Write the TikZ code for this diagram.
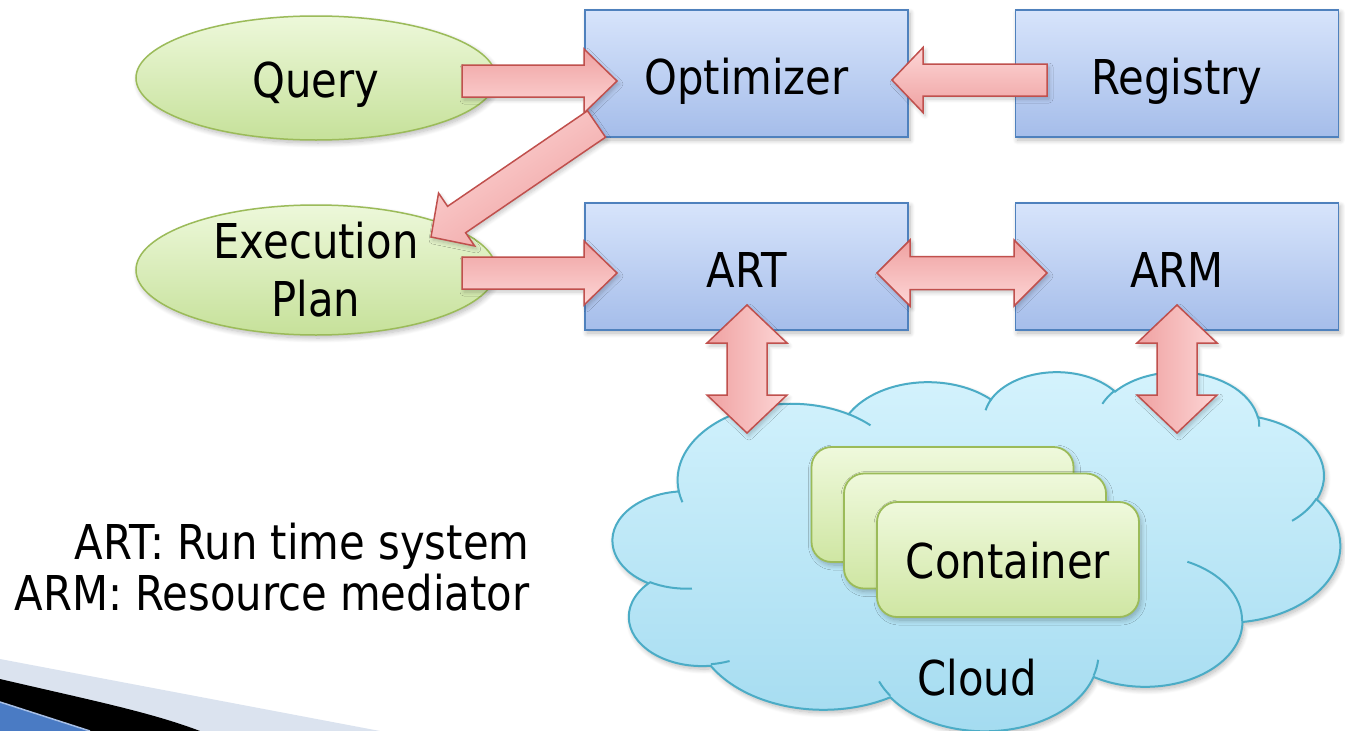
\documentclass[tikz,border=0pt]{standalone}
\usepackage{fontspec}
\setmainfont{DejaVu Sans}[FakeStretch=0.87]
\usetikzlibrary{shapes.geometric,shadows.blur,calc}

\definecolor{boxtop}{HTML}{D7E4FB}
\definecolor{boxbot}{HTML}{A5BDEA}
\definecolor{boxline}{HTML}{4F81BD}
\definecolor{elltop}{HTML}{EDF8DA}
\definecolor{ellbot}{HTML}{C6E19A}
\definecolor{ellline}{HTML}{9BBB59}
\definecolor{arrlight}{HTML}{FDD6D6}
\definecolor{arrdark}{HTML}{EFA1A1}
\definecolor{arrline}{HTML}{C0504D}
\definecolor{cloudtop}{HTML}{D5F3FD}
\definecolor{cloudbot}{HTML}{A3DBF0}
\definecolor{cloudline}{HTML}{4BACC6}
\definecolor{ctop}{HTML}{EFF9DC}
\definecolor{cbot}{HTML}{CFE6A3}
\definecolor{swooshlight}{HTML}{DBE3EF}
\definecolor{swooshblue}{HTML}{4A7BC4}
\definecolor{swooshedge}{HTML}{A7BFE6}

% direction and length between two named points
\newcommand\arrowgeom[2]{%
  \path let \p1=(#1), \p2=(#2) in \pgfextra{%
    \pgfmathsetmacro\tmpang{atan2(\y2-\y1,\x2-\x1)}%
    \pgfmathsetmacro\tmplen{veclen(\x2-\x1,\y2-\y1)}%
    \xdef\arang{\tmpang}\xdef\arlen{\tmplen}};}

% block arrow: tail, tip, shaft half width, head half width, head length, colours, base shading angle
\newcommand\singlearrow[7]{%
  \arrowgeom{#1}{#2}%
  \pgfmathsetmacro\shang{\arang+#7}%
  \begin{scope}[shift={(#1)}, rotate=\arang, x=1pt, y=1pt]
    \path[blockarrow, #6, shading angle=\shang]
      (0,-#3) -- (\arlen-#5,-#3) -- (\arlen-#5,-#4) -- (\arlen,0)
      -- (\arlen-#5,#4) -- (\arlen-#5,#3) -- (0,#3) -- cycle;
  \end{scope}}

% block arrow with a head at both ends
\newcommand\doublearrow[7]{%
  \arrowgeom{#1}{#2}%
  \pgfmathsetmacro\shang{\arang+#7}%
  \begin{scope}[shift={(#1)}, rotate=\arang, x=1pt, y=1pt]
    \path[blockarrow, #6, shading angle=\shang]
      (0,0) -- (#5,#4) -- (#5,#3) -- (\arlen-#5,#3) -- (\arlen-#5,#4)
      -- (\arlen,0) -- (\arlen-#5,-#4) -- (\arlen-#5,-#3) -- (#5,-#3)
      -- (#5,-#4) -- cycle;
  \end{scope}}

% one lobe of the cloud outline: radii, start angle, sweep (visual angles, y downwards)
\def\csx{1.6829pt}
\def\csy{0.8310pt}
\newcommand\cloudarc[4]{arc[x radius={#1*\csx}, y radius={#2*\csy},
  start angle={-atan2(#1*sin(#3),#2*cos(#3))},
  delta angle={-Mod(atan2(#1*sin(#3+#4),#2*cos(#3+#4))-atan2(#1*sin(#3),#2*cos(#3)),360)}]}

\begin{document}
\begin{tikzpicture}[x=1pt, y=-1pt,
  font=\fontsize{48}{58}\selectfont,
  shadowed/.style={blur shadow={shadow xshift=2pt, shadow yshift=-3pt,
      shadow opacity=28, shadow blur radius=5pt, shadow blur steps=8}},
  linebox/.style={text height=52pt, text depth=10pt},
  box/.style={rectangle, draw=boxline, line width=1.5pt,
      top color=boxtop, bottom color=boxbot,
      minimum width=323pt, minimum height=127pt, inner sep=0pt,
      linebox, shadowed},
  oval/.style={ellipse, draw=ellline, line width=1.5pt,
      top color=elltop, bottom color=ellbot,
      minimum width=360pt, inner sep=0pt, shadowed},
  container/.style={rectangle, rounded corners=20pt, draw=ellline, line width=1.8pt,
      top color=ctop, bottom color=cbot,
      minimum width=262pt, minimum height=115pt, inner sep=0pt,
      text height=48pt, text depth=10pt, shadowed},
  blockarrow/.style={draw=arrline, line width=1.5pt, line join=miter,
      blur shadow={shadow xshift=2pt, shadow yshift=-3pt,
      shadow opacity=22, shadow blur radius=4pt, shadow blur steps=6}},
  sidecols/.style={top color=arrdark, bottom color=arrlight},
  cloudshape/.style={draw=cloudline, line width=2pt,
      top color=cloudtop, bottom color=cloudbot, shadowed},
  crease/.style={draw=cloudline, line width=2pt}]

\useasboundingbox (0,0) rectangle (1345,731);

% corner swoosh of the slide
\fill[swooshlight] (0,659) -- (380,731) -- (0,731) -- cycle;
\fill[black] (0,679) .. controls (90,700) and (150,712) .. (200,731) -- (0,731) -- cycle;
\fill[swooshblue] (0,702) -- (90,731) -- (0,731) -- cycle;
\draw[swooshedge, line width=1.5pt] (0,702) -- (90,731);

% input and plan
\node[oval, minimum height=124pt, text height=48pt, text depth=10pt] (query) at (316,78) {Query};
\node[oval, minimum height=130pt] (plan) at (316,270) {};
\node[align=center] (plantext) at (plan.center) {Execution\\Plan};

% system components
\node[box] (opt) at (746.5,73.5) {Optimizer};
\node[box] (reg) at (1177,73.5) {Registry};
\node[box] (art) at (746.5,266.5) {ART};
\node[box] (arm) at (1177,266.5) {ARM};

% cloud
\begin{scope}[shift={(613,371)}, x=1.6829pt, y=-0.8310pt]
  \path[cloudshape] (39.00,143.70)
    \cloudarc{67.53}{91.90}{-190.4875}{123.7805}
    \cloudarc{53.33}{72.67}{-144.1024}{89.9452}
    \cloudarc{43.65}{59.45}{-145.8079}{99.7230}
    \cloudarc{48.57}{65.95}{-130.9861}{117.2417}
    \cloudarc{53.33}{72.73}{-78.7089}{109.0269}
    \cloudarc{67.75}{92.20}{-46.2673}{130.2690}
    \cloudarc{57.85}{78.67}{0.6250}{114.0333}
    \cloudarc{67.52}{92.15}{22.4516}{115.1726}
    \cloudarc{77.20}{105.43}{66.2426}{75.7110}
    \cloudarc{43.60}{59.18}{-274.9421}{146.7356}
    \cloudarc{43.45}{59.45}{-246.8285}{152.5189}
    -- cycle;
  \path[crease]
    (46.93,261.77) \cloudarc{43.45}{59.45}{86.7420}{26.4295}
    (69.28,348.99) \cloudarc{43.60}{59.18}{73.6105}{11.4475}
    (164.78,390.90) \cloudarc{67.52}{92.15}{137.6242}{14.0811}
    (288.27,347.51) \cloudarc{67.52}{92.15}{6.4533}{15.9984}
    (341.29,229.54) \cloudarc{57.85}{78.67}{-70.2924}{70.9174}
    (417.98,153.54) \cloudarc{53.33}{72.73}{30.3180}{27.7515}
    (383.24,54.26) \cloudarc{48.57}{65.95}{-13.7443}{14.8589}
    (290.78,39.52) \cloudarc{48.57}{65.95}{-149.1815}{18.1954}
    (221.41,47.20) \cloudarc{43.65}{59.45}{-163.4943}{17.6864}
    (140.00,51.92) \cloudarc{67.53}{91.90}{-66.7070}{12.3194}
    (41.27,157.89) \cloudarc{67.53}{91.90}{157.6544}{11.8582};
\end{scope}
\node (cloudtext) at (977,695) [anchor=base] {Cloud};

% stacked containers
\node[container] (c1) at (942.5,504.5) {};
\node[container] (c2) at (975,531) {};
\node[container] (c3) at (1008,559.5) {Container};

% end points of the block arrows
\coordinate (qa1) at (462,81);    \coordinate (qa2) at (617,81);
\coordinate (ra1) at (1047,80);   \coordinate (ra2) at (892,80);
\coordinate (da1) at (596.5,124); \coordinate (da2) at (431,237);
\coordinate (ea1) at (462,273);   \coordinate (ea2) at (617,273);
\coordinate (ma1) at (877,273);   \coordinate (ma2) at (1047,273);
\coordinate (va1) at (747,305);   \coordinate (va2) at (747,433);
\coordinate (wa1) at (1177,305);  \coordinate (wa2) at (1177,433);

\singlearrow{qa1}{qa2}{16}{32}{33}{sidecols}{0}
\singlearrow{ra1}{ra2}{16}{32.5}{31}{sidecols}{0}
\singlearrow{da1}{da2}{16}{32}{31}{sidecols}{0}
\singlearrow{ea1}{ea2}{16}{32}{33}{sidecols}{0}
\doublearrow{ma1}{ma2}{16.5}{33}{33}{left color=arrdark, right color=arrlight}{0}
\doublearrow{va1}{va2}{20}{40}{38}{left color=arrlight, right color=arrdark}{0}
\doublearrow{wa1}{wa2}{20}{40}{38}{left color=arrlight, right color=arrdark}{0}

% legend (base anchor sits on the last line)
\node[anchor=base east, align=right, font=\fontsize{48}{51}\selectfont] (legend)
  at (533,610) {ART: Run time system\\ARM: Resource mediator};

\end{tikzpicture}
\end{document}
